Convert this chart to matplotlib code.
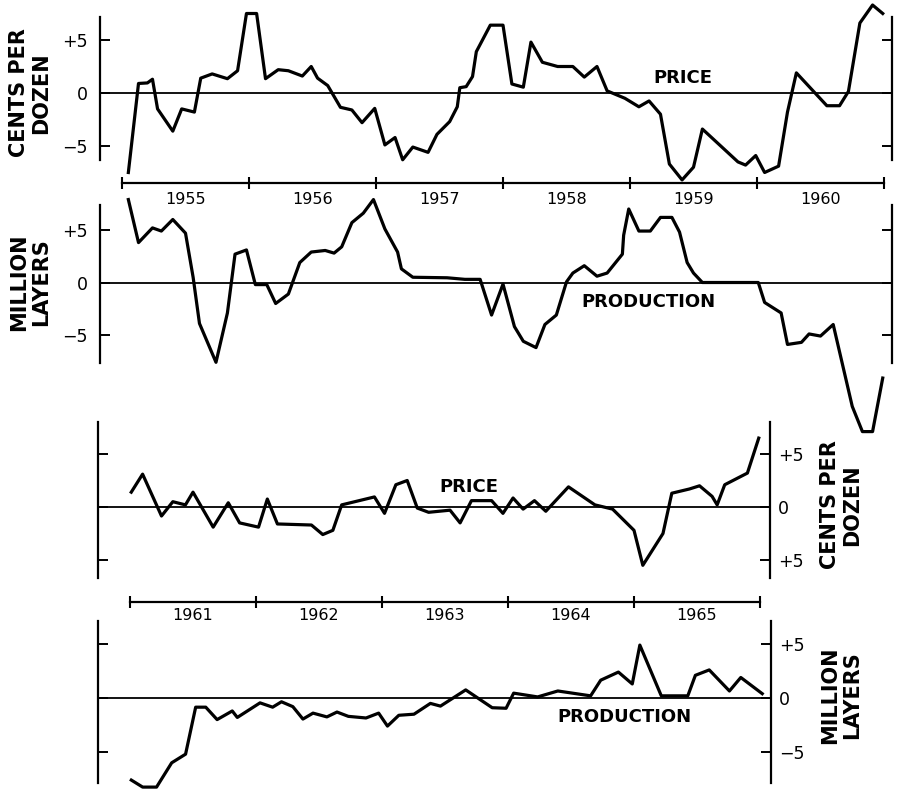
import matplotlib
matplotlib.use("Agg")
import matplotlib.pyplot as plt
import matplotlib.transforms as mtrans

W, H = 902, 789

# 1955-1960, deviations (decimal year, value)
price_a_t = [1955.05, 1955.13, 1955.20, 1955.24, 1955.28, 1955.40, 1955.47, 1955.57, 1955.62, 1955.71,
             1955.83, 1955.91, 1955.98, 1956.06, 1956.13, 1956.23, 1956.31, 1956.42, 1956.49, 1956.54,
             1956.62, 1956.72, 1956.81, 1956.89, 1956.99, 1957.07, 1957.15, 1957.21, 1957.29, 1957.41,
             1957.48, 1957.58, 1957.64, 1957.66, 1957.71, 1957.76, 1957.79, 1957.90, 1958.00, 1958.07,
             1958.16, 1958.22, 1958.31, 1958.43, 1958.55, 1958.64, 1958.74, 1958.82, 1958.96, 1959.07,
             1959.15, 1959.24, 1959.31, 1959.41, 1959.50, 1959.57, 1959.85, 1959.91, 1959.99, 1960.06,
             1960.17, 1960.24, 1960.31, 1960.55, 1960.65, 1960.72, 1960.81, 1960.91, 1960.99]
price_a_v = [-7.5, 0.9, 0.95, 1.3, -1.5, -3.6, -1.5, -1.8, 1.4, 1.8,
             1.35, 2.1, 7.5, 7.5, 1.35, 2.2, 2.1, 1.6, 2.5, 1.4,
             0.7, -1.35, -1.6, -2.8, -1.45, -4.9, -4.2, -6.3, -5.1, -5.6,
             -3.9, -2.7, -1.3, 0.5, 0.6, 1.55, 3.9, 6.4, 6.4, 0.85,
             0.55, 4.8, 2.9, 2.5, 2.5, 1.5, 2.5, 0.2, -0.5, -1.3,
             -0.75, -2.0, -6.7, -8.2, -7.0, -3.4, -6.5, -6.8, -5.9, -7.5,
             -6.9, -1.8, 1.9, -1.2, -1.2, 0.15, 6.6, 8.3, 7.5]

prod_a_t = [1955.05, 1955.13, 1955.24, 1955.31, 1955.40, 1955.50, 1955.56, 1955.61, 1955.74, 1955.83,
            1955.89, 1955.98, 1956.05, 1956.14, 1956.21, 1956.31, 1956.40, 1956.49, 1956.60, 1956.67,
            1956.73, 1956.81, 1956.90, 1956.98, 1957.07, 1957.17, 1957.20, 1957.29, 1957.56, 1957.70,
            1957.82, 1957.91, 1958.00, 1958.09, 1958.16, 1958.26, 1958.33, 1958.42, 1958.50, 1958.55,
            1958.64, 1958.74, 1958.82, 1958.94, 1958.95, 1958.99, 1959.07, 1959.16, 1959.24, 1959.33,
            1959.39, 1959.45, 1959.50, 1959.57, 1960.01, 1960.06, 1960.19, 1960.24, 1960.35, 1960.41,
            1960.50, 1960.60, 1960.75, 1960.83, 1960.91, 1960.99]
prod_a_v = [7.9, 3.8, 5.2, 4.9, 6.0, 4.7, 0.5, -3.9, -7.6, -2.9,
            2.7, 3.1, -0.2, -0.2, -2.0, -1.1, 1.9, 2.9, 3.05, 2.8,
            3.4, 5.7, 6.6, 7.9, 5.1, 2.9, 1.3, 0.5, 0.45, 0.3,
            0.3, -3.1, -0.15, -4.2, -5.6, -6.2, -4.0, -3.1, 0.06, 0.9,
            1.6, 0.6, 0.9, 2.7, 4.5, 7.0, 4.9, 4.9, 6.2, 6.2,
            4.8, 1.9, 0.9, 0.0, 0.0, -1.9, -2.9, -5.9, -5.7, -4.9,
            -5.1, -4.0, -11.8, -14.2, -14.2, -9.1]

# 1961-1965
price_b_t = [1961.01, 1961.10, 1961.25, 1961.34, 1961.44, 1961.50, 1961.66, 1961.78, 1961.87, 1962.02,
             1962.09, 1962.17, 1962.44, 1962.53, 1962.61, 1962.68, 1962.94, 1963.02, 1963.11, 1963.20,
             1963.28, 1963.37, 1963.54, 1963.62, 1963.71, 1963.87, 1963.96, 1964.04, 1964.12, 1964.21,
             1964.30, 1964.48, 1964.69, 1964.83, 1965.00, 1965.07, 1965.23, 1965.30, 1965.44, 1965.52,
             1965.62, 1965.66, 1965.72, 1965.90, 1965.99]
price_b_v = [1.4, 3.1, -0.85, 0.5, 0.2, 1.4, -1.9, 0.4, -1.5, -1.9,
             0.75, -1.6, -1.7, -2.6, -2.2, 0.2, 0.95, -0.6, 2.1, 2.5,
             -0.1, -0.5, -0.3, -1.5, 0.6, 0.6, -0.6, 0.85, -0.2, 0.6,
             -0.4, 1.9, 0.2, -0.2, -2.2, -5.5, -2.5, 1.3, 1.7, 2.0,
             1.0, 0.2, 2.1, 3.2, 6.5]

prod_b_t = [1961.01, 1961.10, 1961.21, 1961.33, 1961.44, 1961.52, 1961.60, 1961.69, 1961.81, 1961.85,
            1962.03, 1962.13, 1962.20, 1962.29, 1962.37, 1962.45, 1962.56, 1962.64, 1962.73, 1962.87,
            1962.97, 1963.04, 1963.13, 1963.25, 1963.38, 1963.46, 1963.66, 1963.87, 1963.98, 1964.04,
            1964.23, 1964.39, 1964.65, 1964.73, 1964.87, 1964.98, 1965.04, 1965.21, 1965.42, 1965.48,
            1965.59, 1965.75, 1965.84, 1966.01]
prod_b_v = [-7.6, -8.25, -8.25, -6.0, -5.2, -0.85, -0.85, -2.0, -1.2, -1.8,
            -0.45, -0.85, -0.35, -0.8, -1.95, -1.4, -1.75, -1.3, -1.7, -1.85,
            -1.4, -2.6, -1.6, -1.5, -0.5, -0.75, 0.75, -0.9, -0.95, 0.45,
            0.1, 0.65, 0.2, 1.65, 2.4, 1.3, 4.9, 0.2, 0.2, 2.1,
            2.6, 0.65, 1.9, 0.4]

years_a = [1955, 1956, 1957, 1958, 1959, 1960]
years_b = [1961, 1962, 1963, 1964, 1965]
ticks = [-5, 0, 5]

plt.rcParams['font.family'] = ['DejaVu Sans']
fig = plt.figure(figsize=(W / 100, H / 100), dpi=100)


def box(x0, y0, x1, y1):
    return [x0 / W, 1 - y1 / H, (x1 - x0) / W, (y1 - y0) / H]


def panel(x0, y0, x1, y1, xlim, zero, scale, t, v, side, labels):
    ax = fig.add_axes(box(x0, y0, x1, y1))
    ax.set_xlim(xlim)
    ax.set_ylim((zero - y1) / scale, (zero - y0) / scale)
    ax.patch.set_visible(False)
    ax.spines['top'].set_visible(False)
    ax.spines['bottom'].set_visible(False)
    ax.spines['left'].set_linewidth(1.6)
    ax.spines['right'].set_linewidth(1.6)
    ax.set_xticks([])
    ax.set_yticks(ticks)
    ax.tick_params(axis='y', direction='in', length=7, width=1.4, left=True, right=True,
                   labelleft=(side == 'left'), labelright=(side == 'right'),
                   labelsize=12.5, pad=9 if side == 'left' else 6)
    ax.set_yticklabels(labels)
    ax.axhline(0, color='black', lw=1.3)
    ax.plot(t, v, color='black', lw=2.3, clip_on=False)
    return ax


def timeline(ax, years, y_bar, y_lab):
    tr = mtrans.blended_transform_factory(ax.transData, fig.transFigure)
    edges = years + [years[-1] + 1]
    yb = 1 - y_bar / H
    ax.plot([edges[0], edges[-1]], [yb, yb], color='black', lw=1.6, transform=tr, clip_on=False)
    ax.plot(edges, [yb] * len(edges), ls='none', marker='|', ms=8, mew=1.5, color='black',
            transform=tr, clip_on=False)
    for y in years:
        ax.text(y + 0.5, 1 - y_lab / H, str(y), transform=tr, ha='center', va='center', fontsize=11.5)


def ftext(x, y, s, **kw):
    fig.text(x / W, 1 - y / H, s, ha='center', va='center', **kw)


xa = (1955 + (100 - 122) / 127, 1955 + (892 - 122) / 127)
xb = (1961 + (98 - 130) / 126, 1961 + (770 - 130) / 126)

ax1 = panel(100, 17, 892, 160, xa, 93, 10.6, price_a_t, price_a_v, 'left', ['\u22125', '0', '+5'])
ax2 = panel(100, 205, 892, 363, xa, 282.5, 10.5, prod_a_t, prod_a_v, 'left', ['\u22125', '0', '+5'])
ax3 = panel(98, 422, 770, 578, xb, 507, 10.6, price_b_t, price_b_v, 'right', ['+5', '0', '+5'])
ax4 = panel(98, 621, 771, 783, xb, 698, 10.8, prod_b_t, prod_b_v, 'right', ['\u22125', '0', '+5'])

timeline(ax1, years_a, 183, 200)
timeline(ax3, years_b, 602, 616)

ftext(683, 78, 'PRICE', fontsize=13, fontweight='bold')
ftext(648, 302, 'PRODUCTION', fontsize=13, fontweight='bold')
ftext(469, 487, 'PRICE', fontsize=13, fontweight='bold')
ftext(624, 717, 'PRODUCTION', fontsize=13, fontweight='bold')

ftext(30, 93, 'CENTS PER\nDOZEN', rotation=90, fontsize=15, fontweight='bold', linespacing=1.15)
ftext(30, 282, 'MILLION\nLAYERS', rotation=90, fontsize=15, fontweight='bold', linespacing=1.15)
ftext(841, 505, 'CENTS PER\nDOZEN', rotation=90, fontsize=15, fontweight='bold', linespacing=1.15)
ftext(841, 695, 'MILLION\nLAYERS', rotation=90, fontsize=15, fontweight='bold', linespacing=1.15)

fig.savefig('out.png', dpi=100)
